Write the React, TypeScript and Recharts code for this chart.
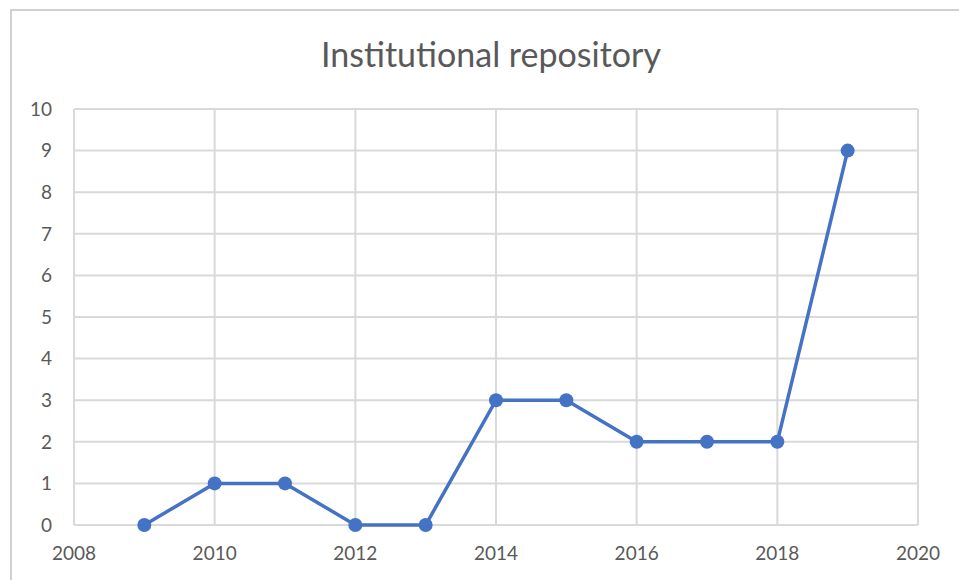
import { LineChart, Line, XAxis, YAxis, CartesianGrid } from 'recharts'

const years = [2009, 2010, 2011, 2012, 2013, 2014, 2015, 2016, 2017, 2018, 2019]
const counts = [0, 1, 1, 0, 0, 3, 3, 2, 2, 2, 9]
const xTicks = [2008, 2010, 2012, 2014, 2016, 2018, 2020]
const yTicks = [0, 1, 2, 3, 4, 5, 6, 7, 8, 9, 10]

const data = years.map((year, i) => ({ year, count: counts[i] }))

const font = 'Lato, "Open Sans", sans-serif'
const grey = '#d9d9d9'
const text = '#595959'

export default function App() {
  return (
    <div style={{ position: 'absolute', top: 0, left: 0, width: 959, height: 580, overflow: 'hidden', background: '#fff', fontFamily: font }}>
      <div style={{ position: 'absolute', left: 10, top: 9, width: 980, height: 600, border: '2px solid #d0d0d0', boxSizing: 'border-box' }} />
      <div style={{ position: 'absolute', top: 33, left: 0, width: 982, textAlign: 'center', fontSize: 34, color: text }}>
        Institutional repository
      </div>
      <div style={{ position: 'absolute', top: 0, left: 0 }}>
        <LineChart width={959} height={580} data={data} margin={{ top: 109, right: 41, bottom: 25, left: 14 }}>
          <CartesianGrid stroke={grey} strokeWidth={2} />
          <XAxis
            dataKey="year"
            type="number"
            domain={[2008, 2020]}
            ticks={xTicks}
            tickLine={false}
            tickSize={0}
            tickMargin={22}
            height={30}
            axisLine={false}
            tick={{ fontSize: 19, fill: text, fontFamily: font }}
          />
          <YAxis
            width={60}
            domain={[0, 10]}
            ticks={yTicks}
            tickLine={false}
            tickSize={0}
            tickMargin={22}
            axisLine={false}
            tick={{ fontSize: 19, fill: text, fontFamily: font }}
          />
          <Line
            dataKey="count"
            stroke="#4472c4"
            strokeWidth={3.5}
            dot={{ r: 7, fill: '#4472c4', stroke: '#4472c4', strokeWidth: 0 }}
            isAnimationActive={false}
          />
        </LineChart>
      </div>
    </div>
  )
}
